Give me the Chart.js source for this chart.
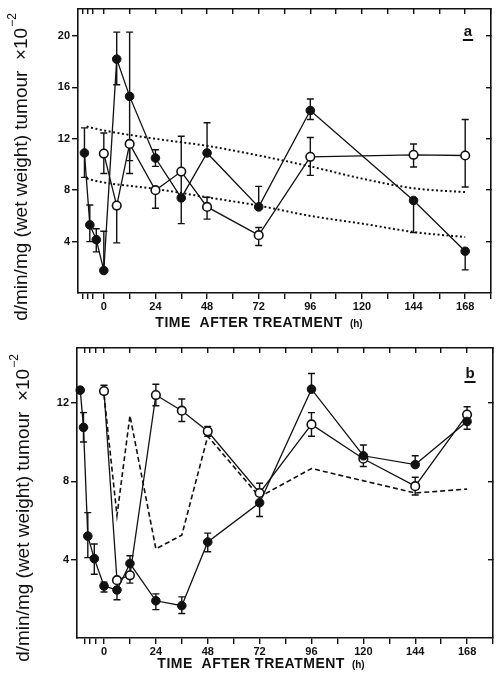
<!DOCTYPE html>
<html>
<head>
<meta charset="utf-8">
<script src="https://cdn.jsdelivr.net/npm/chart.js@4/dist/chart.umd.min.js"></script>
<style>
  html, body { margin: 0; padding: 0; background: #fff; }
  canvas { display: block; }
</style>
</head>
<body>
<canvas id="chartA" width="502" height="330"></canvas>
<canvas id="chartB" width="502" height="348"></canvas>
<script>
// --- panel a data ---
const aFilledX = [-9, -6.5, -3.5, 0, 6, 12, 24, 36, 48, 72, 96, 144, 168];
const aFilledY = [10.9, 5.3, 4.15, 1.75, 18.2, 15.3, 10.5, 7.4, 10.9, 6.7, 14.2, 7.2, 3.25];
const aFilledLo = [9.0, 4.0, 3.2, 1.75, 16.2, 10.3, 9.85, 5.4, 10.9, 6.7, 13.5, 4.7, 1.8];
const aFilledHi = [12.85, 6.85, 5.0, 4.8, 20.3, 20.3, 11.15, 9.4, 13.25, 8.3, 15.1, 7.2, 3.25];

const aOpenX = [0, 6, 12, 24, 36, 48, 72, 96, 144, 168];
const aOpenY = [10.85, 6.8, 11.6, 8.0, 9.45, 6.7, 4.5, 10.6, 10.75, 10.7];
const aOpenLo = [9.3, 3.9, 9.3, 6.6, 9.45, 5.75, 3.7, 9.15, 9.8, 8.25];
const aOpenHi = [12.45, 6.8, 11.6, 8.0, 12.2, 7.45, 5.1, 12.1, 11.6, 13.5];

const aTrendX = [-8, 0, 24, 48, 72, 96, 120, 144, 168];
const aTrendUpper = [12.95, 12.65, 12.0, 11.45, 10.7, 9.85, 8.9, 8.15, 7.85];
const aTrendLower = [8.9, 8.6, 8.1, 7.45, 6.8, 6.0, 5.4, 4.75, 4.35];

const aYTicks = [4, 8, 12, 16, 20];
const aXTicks = [-10, -7.5, -5, 0, 12, 24, 36, 48, 60, 72, 84, 96, 108, 120, 132, 144, 156, 168, 180];

// --- panel b data ---
const bFilledX = [-11, -9.5, -7.5, -4.5, 0, 6, 12, 24, 36, 48, 72, 96, 120, 144, 168];
const bFilledY = [12.65, 10.75, 5.2, 4.05, 2.65, 2.45, 3.8, 1.9, 1.65, 4.9, 6.9, 12.7, 9.3, 8.85, 11.05];
const bFilledLo = [12.65, 10.0, 4.1, 3.25, 2.35, 1.95, 3.3, 1.45, 1.25, 4.4, 6.2, 12.7, 8.75, 8.85, 10.65];
const bFilledHi = [12.65, 11.5, 6.4, 4.8, 2.85, 2.85, 4.2, 2.25, 2.1, 5.35, 7.6, 13.5, 9.85, 9.3, 11.4];

const bOpenX = [0, 6, 12, 24, 36, 48, 72, 96, 120, 144, 168];
const bOpenY = [12.6, 2.95, 3.2, 12.4, 11.6, 10.55, 7.4, 10.9, 9.15, 7.75, 11.4];
const bOpenLo = [12.6, 2.95, 2.8, 11.85, 11.05, 10.3, 7.0, 10.3, 9.15, 7.3, 11.0];
const bOpenHi = [12.9, 2.95, 3.2, 12.95, 12.2, 10.8, 7.9, 11.5, 9.15, 8.2, 11.8];

const bDashX = [0, 6, 12, 24, 36, 48, 72, 96, 144, 168];
const bDashY = [12.4, 6.25, 11.35, 4.55, 5.25, 10.3, 7.2, 8.65, 7.4, 7.6];

const bYTicks = [4, 8, 12];
const bXTicks = [-9, -6.5, -4, 0, 12, 24, 36, 48, 60, 72, 84, 96, 108, 120, 132, 144, 156, 168, 180];

const INK = '#111';
Chart.defaults.font.family = '"Liberation Sans", Arial, sans-serif';
Chart.defaults.color = INK;

const pts = (xs, ys) => xs.map((x, i) => ({ x: x, y: ys[i] }));

// error bars drawn under the markers
const errorBars = {
    id: 'errorBars',
    beforeDatasetsDraw(chart) {
        const ctx = chart.ctx;
        const sx = chart.scales.x, sy = chart.scales.y;
        chart.data.datasets.forEach(ds => {
            if (!ds.errLo) return;
            ctx.save();
            ctx.strokeStyle = INK;
            ctx.lineWidth = 1.4;
            ds.data.forEach((p, i) => {
                const lo = ds.errLo[i], hi = ds.errHi[i];
                if (lo === hi) return;
                const px = sx.getPixelForValue(p.x);
                const pLo = sy.getPixelForValue(lo), pHi = sy.getPixelForValue(hi);
                ctx.beginPath();
                ctx.moveTo(px, pLo); ctx.lineTo(px, pHi);
                if (hi > p.y) { ctx.moveTo(px - 3.5, pHi); ctx.lineTo(px + 3.5, pHi); }
                if (lo < p.y) { ctx.moveTo(px - 3.5, pLo); ctx.lineTo(px + 3.5, pLo); }
                ctx.stroke();
            });
            ctx.restore();
        });
    }
};

// axis titles and panel letter
const panelText = {
    id: 'panelText',
    afterDraw(chart, args, o) {
        const ctx = chart.ctx;
        ctx.save();
        ctx.fillStyle = INK;
        ctx.textBaseline = 'middle';
        ctx.textAlign = 'left';

        // x title
        const big = 'bold 14px "Liberation Sans"', small = 'bold 10px "Liberation Sans"';
        ctx.font = big;
        ctx.letterSpacing = '0.5px';
        const t1 = 'TIME  AFTER TREATMENT';
        const w1 = ctx.measureText(t1).width;
        ctx.font = small;
        ctx.letterSpacing = '0px';
        const t2 = '(h)';
        const w2 = ctx.measureText(t2).width;
        const sx = o.xTitleX - (w1 + 7 + w2) / 2;
        ctx.font = big;
        ctx.letterSpacing = '0.5px';
        ctx.fillText(t1, sx, o.xTitleY);
        ctx.font = small;
        ctx.letterSpacing = '0px';
        ctx.fillText(t2, sx + w1 + 7, o.xTitleY + 1);

        // y title (rotated)
        ctx.save();
        ctx.translate(o.yTitleX, o.yTitleY);
        ctx.rotate(-Math.PI / 2);
        const yf = '19px "Liberation Sans"', yfs = '12px "Liberation Sans"';
        ctx.font = yf;
        const m = 'd/min/mg (wet weight) tumour  \u00d710';
        const wm = ctx.measureText(m).width;
        ctx.font = yfs;
        const s = '\u22122';
        const ws = ctx.measureText(s).width;
        const st = -(wm + ws + 1) / 2;
        ctx.font = yf;
        ctx.fillText(m, st, 0);
        ctx.font = yfs;
        ctx.fillText(s, st + wm + 1, -9);
        ctx.restore();

        // panel letter, underlined
        ctx.font = 'bold 15px "Liberation Sans"';
        ctx.textAlign = 'center';
        ctx.fillText(o.letter, o.letterX, o.letterY);
        const lw = ctx.measureText(o.letter).width;
        ctx.fillRect(o.letterX - lw / 2 - 1, o.letterY + 7, lw + 2, 2);
        ctx.restore();
    }
};

function buildChart(canvasId, cfg) {
    const fixTicks = list => scale => { scale.ticks = list.map(v => ({ value: v })); };
    const axisBase = {
        type: 'linear',
        border: { display: true, color: INK, width: 1.6 },
        grid: { drawOnChartArea: false, drawTicks: true, color: INK, lineWidth: 1.4 }
    };
    return new Chart(document.getElementById(canvasId), {
        type: 'scatter',
        data: { datasets: cfg.datasets },
        options: {
            responsive: false,
            animation: false,
            layout: { padding: cfg.padding },
            plugins: {
                legend: { display: false },
                tooltip: { enabled: false },
                panelText: cfg.text
            },
            scales: {
                x: Object.assign({}, axisBase, {
                    position: 'bottom', min: cfg.xMin, max: cfg.xMax,
                    grid: Object.assign({}, axisBase.grid, { tickLength: 6 }),
                    afterBuildTicks: fixTicks(cfg.xTicks),
                    afterFit: s => { s.height = cfg.xAxisH; },
                    ticks: {
                        autoSkip: false, maxRotation: 0, padding: cfg.xTickPad,
                        font: { size: 11, weight: 'bold' },
                        callback: v => (v >= 0 && v % 24 === 0) ? String(v) : ''
                    }
                }),
                x2: Object.assign({}, axisBase, {
                    axis: 'x', position: 'top', min: cfg.xMin, max: cfg.xMax,
                    grid: Object.assign({}, axisBase.grid, { tickLength: -5 }),
                    afterBuildTicks: fixTicks(cfg.xTicks),
                    afterFit: s => { s.height = 0; },
                    ticks: { display: false }
                }),
                y: Object.assign({}, axisBase, {
                    position: 'left', min: 0, max: cfg.yMax,
                    grid: Object.assign({}, axisBase.grid, { tickLength: 6 }),
                    afterBuildTicks: fixTicks(cfg.yTicks),
                    afterFit: s => { s.width = cfg.yAxisW; },
                    ticks: { padding: 2, font: { size: 11, weight: 'bold' } }
                }),
                y2: Object.assign({}, axisBase, {
                    axis: 'y', position: 'right', min: 0, max: cfg.yMax,
                    grid: Object.assign({}, axisBase.grid, { tickLength: -5 }),
                    afterBuildTicks: fixTicks(cfg.yTicks),
                    afterFit: s => { s.width = 0; },
                    ticks: { display: false }
                })
            }
        },
        plugins: [errorBars, panelText]
    });
}

const filledStyle = {
    showLine: true, borderColor: INK, borderWidth: 1.3,
    pointRadius: 4.3, pointBackgroundColor: INK, pointBorderColor: INK, pointBorderWidth: 1,
    clip: false, order: 0
};
const openStyle = {
    showLine: true, borderColor: INK, borderWidth: 1.3,
    pointRadius: 4.3, pointBackgroundColor: '#fff', pointBorderColor: INK, pointBorderWidth: 1.6,
    clip: false, order: 1
};

buildChart('chartA', {
    xMin: -12, xMax: 180, yMax: 22.1,
    xTicks: aXTicks, yTicks: aYTicks,
    padding: { top: 9, right: 11, left: 0, bottom: 0 },
    yAxisW: 78, xAxisH: 37, xTickPad: 1,
    text: { letter: 'a', letterX: 468, letterY: 32, xTitleX: 259, xTitleY: 323, yTitleX: 22, yTitleY: 167 },
    datasets: [
        Object.assign({ data: pts(aFilledX, aFilledY), errLo: aFilledLo, errHi: aFilledHi }, filledStyle),
        Object.assign({ data: pts(aOpenX, aOpenY), errLo: aOpenLo, errHi: aOpenHi }, openStyle),
        { data: pts(aTrendX, aTrendUpper), showLine: true, borderColor: INK, borderWidth: 2,
          borderDash: [2, 2.5], pointRadius: 0, cubicInterpolationMode: 'monotone', order: 2 },
        { data: pts(aTrendX, aTrendLower), showLine: true, borderColor: INK, borderWidth: 2,
          borderDash: [2, 2.5], pointRadius: 0, cubicInterpolationMode: 'monotone', order: 2 }
    ]
});

buildChart('chartB', {
    xMin: -12.5, xMax: 180, yMax: 14.8,
    xTicks: bXTicks, yTicks: bYTicks,
    padding: { top: 18, right: 9, left: 0, bottom: 0 },
    yAxisW: 77, xAxisH: 40, xTickPad: 1,
    text: { letter: 'b', letterX: 470, letterY: 44, xTitleX: 261, xTitleY: 334, yTitleX: 24, yTitleY: 178 },
    datasets: [
        Object.assign({ data: pts(bFilledX, bFilledY), errLo: bFilledLo, errHi: bFilledHi }, filledStyle),
        Object.assign({ data: pts(bOpenX, bOpenY), errLo: bOpenLo, errHi: bOpenHi }, openStyle),
        { data: pts(bDashX, bDashY), showLine: true, borderColor: INK, borderWidth: 1.6,
          borderDash: [5, 3], pointRadius: 0, order: 2 }
    ]
});
</script>
</body>
</html>
